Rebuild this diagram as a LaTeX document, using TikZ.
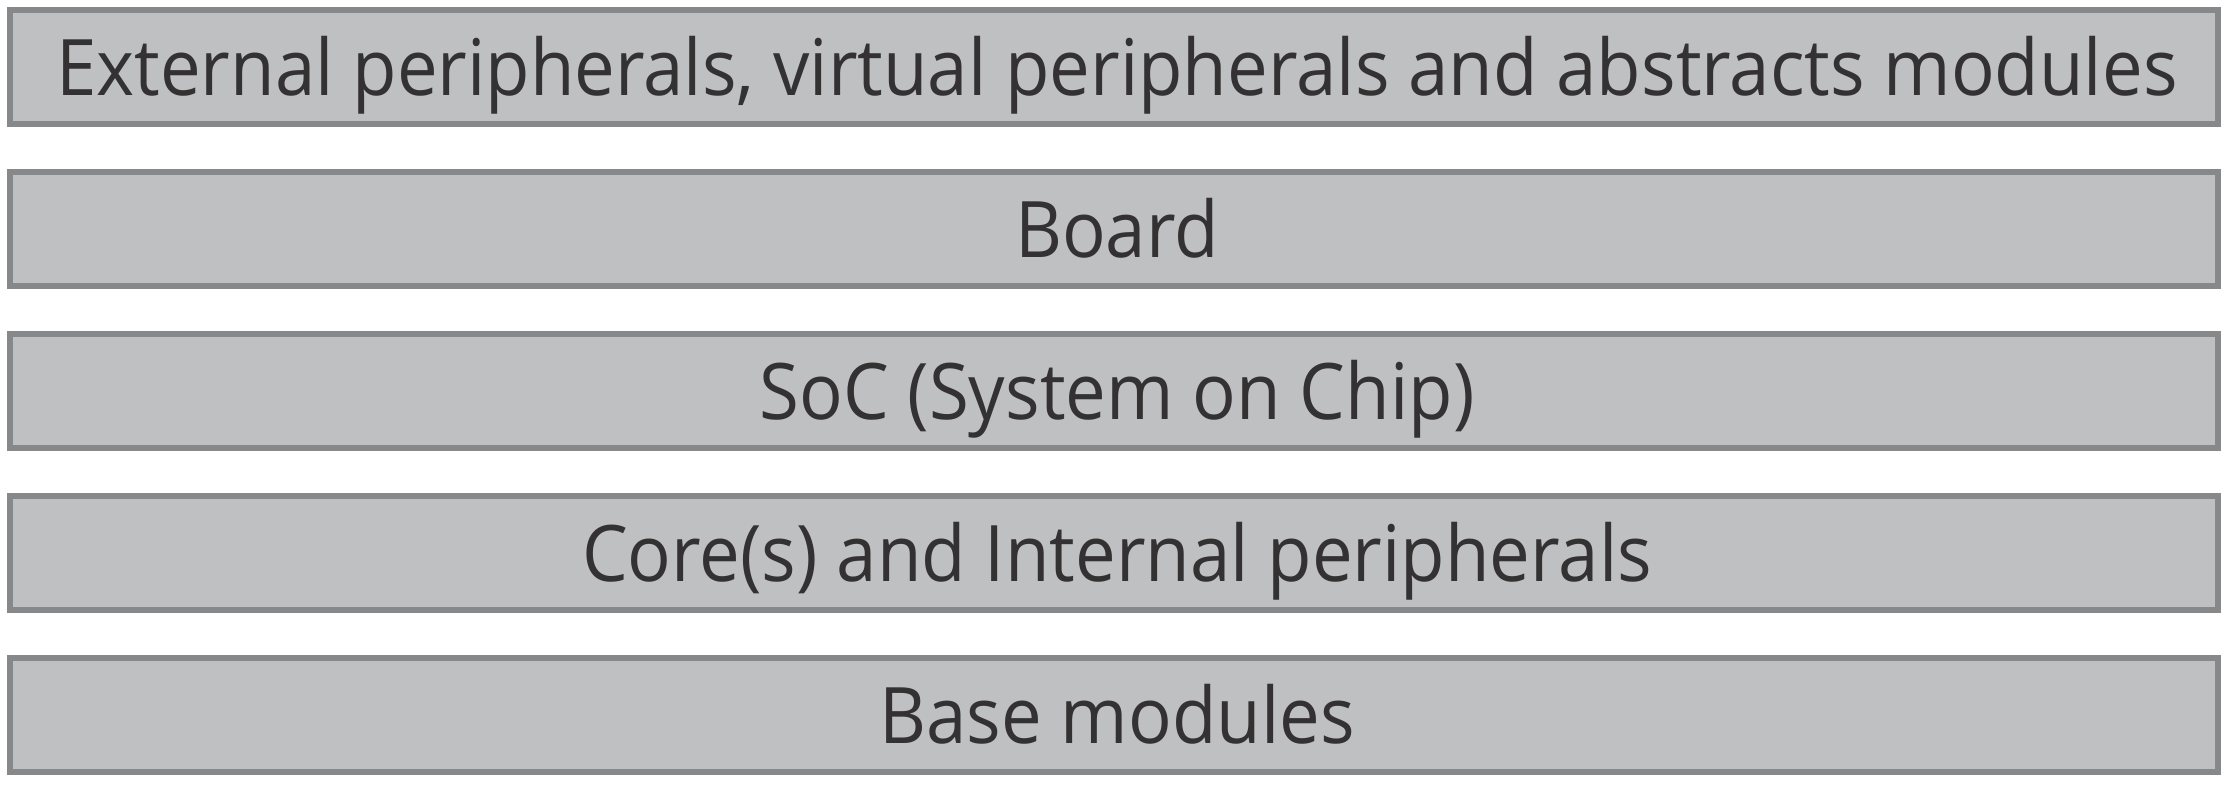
\documentclass[tikz,border=0pt]{standalone}
\usepackage{fontspec}
\setmainfont[FakeStretch=0.93]{Open Sans}
\definecolor{layerfill}{HTML}{BFC0C2}
\definecolor{layerline}{HTML}{87888A}
\definecolor{layertext}{HTML}{333132}
\begin{document}
\begin{tikzpicture}[x=0.5pt,y=-0.5pt,
  layer/.style={draw=layerline, fill=layerfill, line width=3pt,
    minimum width=1104pt, minimum height=57.15pt, inner sep=0pt,
    text height=29pt, text depth=0pt, text=layertext,
    execute at begin node=\hspace*{3pt},
    font=\fontsize{39pt}{44pt}\selectfont}]
  \useasboundingbox (0,0) rectangle (2229,785);
  \node[layer] (ext)   at (1114,66.85)  {External peripherals, virtual peripherals and abstracts modules};
  \node[layer] (board) at (1114,228.85) {Board};
  \node[layer] (soc)   at (1114,390.85) {SoC (System on Chip)};
  \node[layer] (core)  at (1114,552.85) {Core(s) and Internal peripherals};
  \node[layer] (base)  at (1114,714.85) {Base modules};
\end{tikzpicture}
\end{document}
